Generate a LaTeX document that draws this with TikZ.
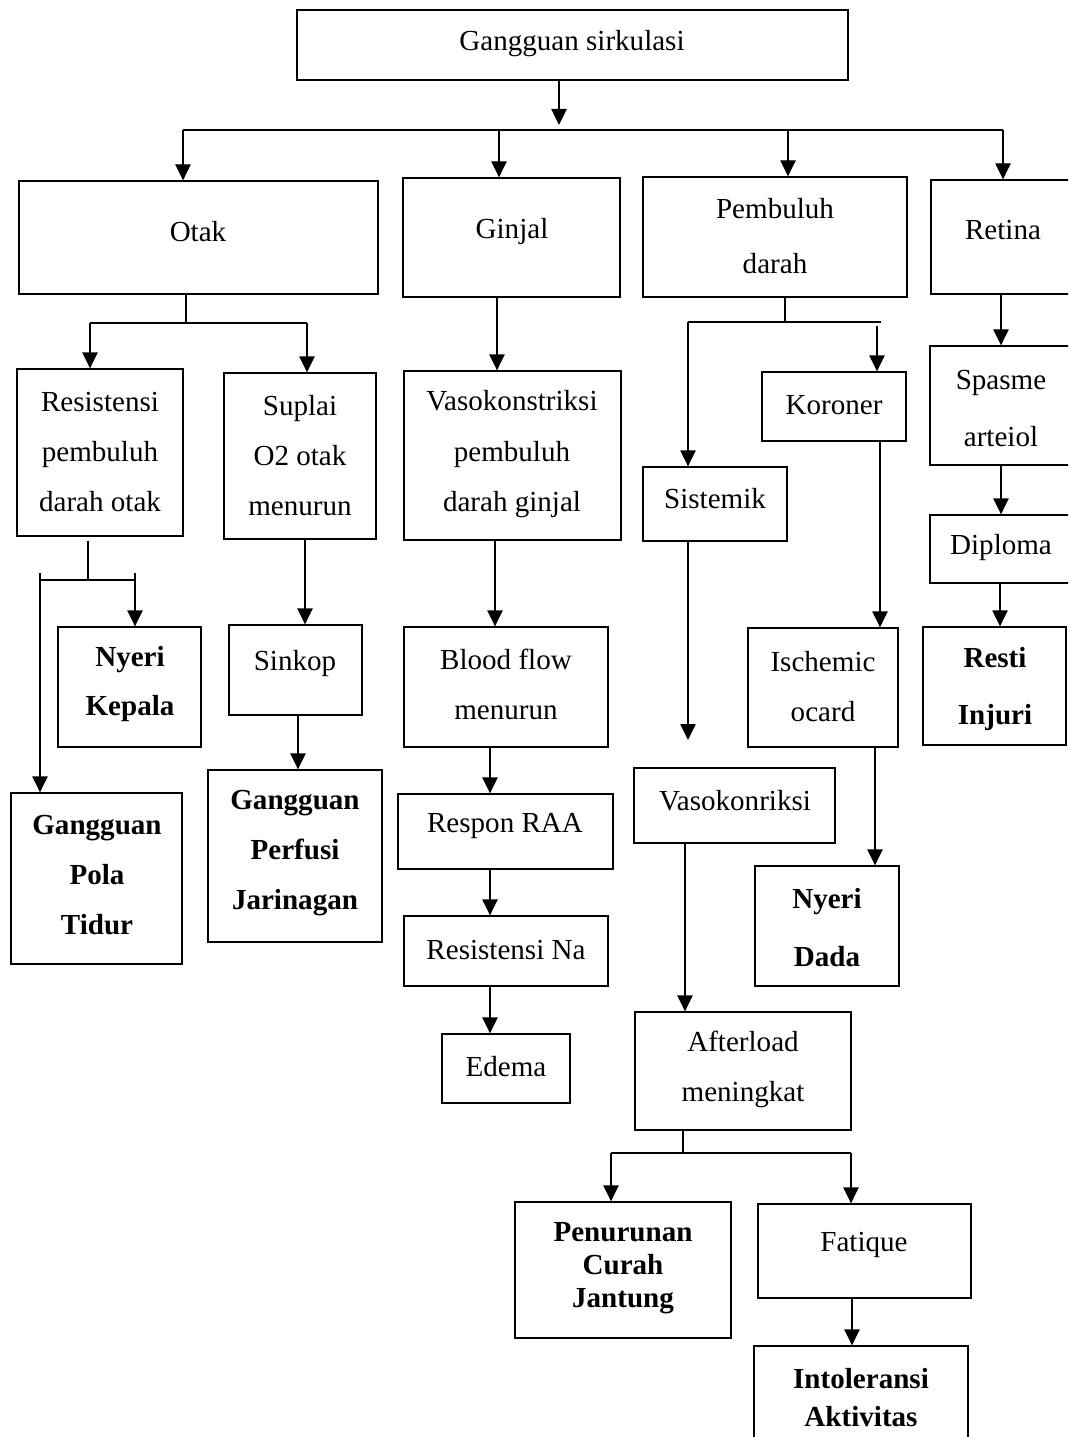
\documentclass[tikz,border=0pt]{standalone}
\usepackage{fontspec}
\setmainfont{Liberation Serif}
\usetikzlibrary{arrows.meta,fit}
\newcommand\fsz[1]{\fontsize{21.8pt}{#1pt}\selectfont}
\begin{document}
\begin{tikzpicture}[x=0.75pt,y=-0.75pt,
 box/.style={draw,line width=1pt,inner sep=0pt},
 lbl/.style={align=center,inner sep=0pt,yshift=-2.5pt,font=\fsz{37.5}},
 blbl/.style={align=center,inner sep=0pt,yshift=-2.5pt,font=\fsz{37.5}\bfseries},
 arr/.style={line width=1pt,-{Triangle[width=11.5pt,length=12pt]}},
 ln/.style={line width=1pt}]
\useasboundingbox (0,0) rectangle (1068,1437);
\fill[white] (0,0) rectangle (1068,1437);
\clip (0,0) rectangle (1068,1437);

% boxes
\node[box,fit={(297,10) (848,80)}] (top) {};
\node[box,fit={(19,181) (378,294)}] (otak) {};
\node[box,fit={(403,178) (620,297)}] (ginjal) {};
\node[box,fit={(643,177) (907,297)}] (pemb) {};
\node[box,fit={(931,180) (1080,294)}] (retina) {};
\node[box,fit={(17,369) (183,536)}] (resis) {};
\node[box,fit={(224,373) (376,539)}] (suplai) {};
\node[box,fit={(58,627) (201,747)}] (nyerik) {};
\node[box,fit={(11,793) (182,964)}] (pola) {};
\node[box,fit={(229,625) (362,715)}] (sinkop) {};
\node[box,fit={(208,770) (382,942)}] (perfusi) {};
\node[box,fit={(404,371) (621,540)}] (vaso) {};
\node[box,fit={(404,627) (608,747)}] (blood) {};
\node[box,fit={(398,794) (613,869)}] (raa) {};
\node[box,fit={(404,916) (608,986)}] (na) {};
\node[box,fit={(442,1034) (570,1103)}] (edema) {};
\node[box,fit={(762,372) (906,441)}] (koroner) {};
\node[box,fit={(643,467) (787,541)}] (sistemik) {};
\node[box,fit={(634,768) (835,843)}] (vasokon) {};
\node[box,fit={(748,628) (898,747)}] (ischemic) {};
\node[box,fit={(755,866) (899,986)}] (nyerid) {};
\node[box,fit={(635,1012) (851,1130)}] (after) {};
\node[box,fit={(515,1202) (731,1338)}] (penur) {};
\node[box,fit={(758,1204) (971,1298)}] (fatique) {};
\node[box,fit={(754,1346) (968,1460)}] (intol) {};
\node[box,fit={(930,346) (1080,465)}] (spasme) {};
\node[box,fit={(930,515) (1080,583)}] (diploma) {};
\node[box,fit={(923,627) (1066,745)}] (resti) {};

% labels
\node[lbl] (top-t) at (572,40) {Gangguan sirkulasi};
\node[lbl] (otak-t) at (198,228) {Otak};
\node[lbl] (ginjal-t) at (512,228) {Ginjal};
\node[lbl,font=\fsz{41}] (pemb-t) at (775,233) {Pembuluh\\darah};
\node[lbl] (retina-t) at (1003,227) {Retina};
\node[lbl] (resis-t) at (100,449) {Resistensi\\pembuluh\\darah otak};
\node[lbl] (suplai-t) at (300,452) {Suplai\\O2 otak\\menurun};
\node[blbl,font=\fsz{37}\bfseries] (nyerik-t) at (130,681) {Nyeri\\Kepala};
\node[blbl] (pola-t) at (97,872) {Gangguan\\Pola\\Tidur};
\node[lbl] (sinkop-t) at (295,660) {Sinkop};
\node[blbl] (perfusi-t) at (295,850) {Gangguan\\Perfusi\\Jarinagan};
\node[lbl,font=\fsz{38}] (vaso-t) at (512,451) {Vasokonstriksi\\pembuluh\\darah ginjal};
\node[lbl] (blood-t) at (506,681) {Blood flow\\menurun};
\node[lbl] (raa-t) at (505,823) {Respon RAA};
\node[lbl] (na-t) at (506,947) {Resistensi Na};
\node[lbl] (edema-t) at (506,1063) {Edema};
\node[lbl] (koroner-t) at (834,402) {Koroner};
\node[lbl] (sistemik-t) at (715,495) {Sistemik};
\node[lbl] (vasokon-t) at (735,797) {Vasokonriksi};
\node[lbl] (ischemic-t) at (823,683) {Ischemic\\ocard};
\node[blbl,font=\fsz{43.5}\bfseries] (nyerid-t) at (827,924) {Nyeri\\Dada};
\node[lbl,font=\fsz{38}] (after-t) at (743,1066) {Afterload\\meningkat};
\node[blbl,font=\fsz{25}\bfseries] (penur-t) at (623,1265) {Penurunan\\Curah\\Jantung};
\node[lbl] (fatique-t) at (864,1242) {Fatique};
\node[blbl,font=\fsz{28.5}\bfseries] (intol-t) at (861,1394) {Intoleransi\\Aktivitas};
\node[lbl,font=\fsz{43}] (spasme-t) at (1001,405) {Spasme\\arteiol};
\node[lbl] (diploma-t) at (1001,544) {Diploma};
\node[blbl,font=\fsz{43}\bfseries] (resti-t) at (995,686) {Resti\\Injuri};

% top bus
\coordinate (b0) at (559,125);
\draw[arr] (top.south -| b0) -- (b0);
\draw[ln] (183,130) coordinate (bL) -- (1003,130) coordinate (bR);
\draw[arr] (bL) -- (otak.north -| bL);
\draw[arr] (499,130) coordinate (bG) -- (ginjal.north -| bG);
\draw[arr] (788,130) coordinate (bP) -- (pemb.north -| bP);
\draw[arr] (bR) -- (retina.north -| bR);

% otak branch
\coordinate (o1) at (186,323);
\draw[ln] (otak.south -| o1) -- (o1);
\draw[ln] (90,323) coordinate (oL) -- (307,323) coordinate (oR);
\draw[arr] (oL) -- (resis.north -| oL);
\draw[arr] (oR) -- (suplai.north -| oR);

% resistensi branch
\coordinate (r1) at (88,580);
\draw[ln] ([yshift=-3pt]resis.south -| r1) -- (r1);
\draw[ln] (40,580) -- (135,580);
\draw[arr] (40,573) coordinate (rL) -- (pola.north -| rL);
\draw[arr] (135,573) coordinate (rR) -- (nyerik.north -| rR);

% suplai chain
\coordinate (s1) at (305,0);
\draw[arr] (suplai.south -| s1) -- (sinkop.north -| s1);
\coordinate (s2) at (298,0);
\draw[arr] (sinkop.south -| s2) -- (perfusi.north -| s2);

% ginjal chain
\coordinate (g1) at (497,0);
\draw[arr] (ginjal.south -| g1) -- (vaso.north -| g1);
\coordinate (g2) at (495,0);
\draw[arr] (vaso.south -| g2) -- (blood.north -| g2);
\coordinate (g3) at (490,0);
\draw[arr] (blood.south -| g3) -- (raa.north -| g3);
\draw[arr] (raa.south -| g3) -- (na.north -| g3);
\draw[arr] (na.south -| g3) -- (edema.north -| g3);

% pembuluh darah branch
\coordinate (p1) at (785,322);
\draw[ln] (pemb.south -| p1) -- (p1);
\draw[ln] (688,322) coordinate (pL) -- (881,322);
\draw[arr] (pL) -- (sistemik.north -| pL);
\draw[arr] (877,326) coordinate (pR) -- (koroner.north -| pR);
\coordinate (k1) at (880,0);
\draw[arr] (koroner.south -| k1) -- (ischemic.north -| k1);
\coordinate (k2) at (875,0);
\draw[arr] (ischemic.south -| k2) -- (nyerid.north -| k2);
\coordinate (sv) at (688,740);
\draw[arr] (sistemik.south -| sv) -- (sv);
\coordinate (v1) at (685,0);
\draw[arr] (vasokon.south -| v1) -- (after.north -| v1);

% afterload branch
\coordinate (a1) at (683,1153);
\draw[ln] (after.south -| a1) -- (a1);
\draw[ln] (611,1153) coordinate (aL) -- (851,1153) coordinate (aR);
\draw[arr] (aL) -- (penur.north -| aL);
\draw[arr] (aR) -- (fatique.north -| aR);
\coordinate (f1) at (852,0);
\draw[arr] (fatique.south -| f1) -- (intol.north -| f1);

% retina chain
\coordinate (t1) at (1001,0);
\draw[arr] (retina.south -| t1) -- (spasme.north -| t1);
\draw[arr] (spasme.south -| t1) -- (diploma.north -| t1);
\coordinate (t2) at (1000,0);
\draw[arr] (diploma.south -| t2) -- (resti.north -| t2);
\end{tikzpicture}
\end{document}
